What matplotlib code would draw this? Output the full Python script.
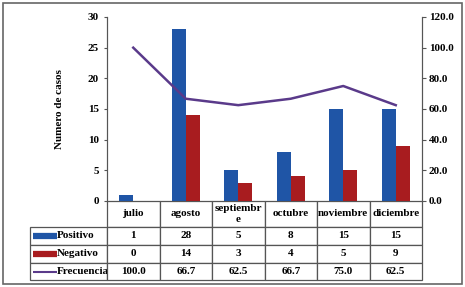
import numpy as np
import matplotlib.pyplot as plt
from matplotlib.patches import Rectangle

# data
meses = ["julio", "agosto", "septiembre", "octubre", "noviembre", "diciembre"]
col_labels = ["julio", "agosto", "septiembr\ne", "octubre", "noviembre", "diciembre"]
positivo = [1, 28, 5, 8, 15, 15]
negativo = [0, 14, 3, 4, 5, 9]
frecuencia = [100.0, 66.7, 62.5, 66.7, 75.0, 62.5]

blue = "#1f55a6"
red = "#a81c1f"
purple = "#5a3a8a"

plt.rcParams["font.family"] = ["Liberation Serif", "DejaVu Serif"]
plt.rcParams["font.weight"] = "bold"

fig = plt.figure(figsize=(4.65, 2.87), dpi=100)
ax = fig.add_axes([107 / 465, 1 - 201 / 287, 315 / 465, 184 / 287])
ax2 = ax.twinx()

x = np.arange(len(meses))
w = 0.27
ax.bar(x - w / 2, positivo, w, color=blue)
ax.bar(x + w / 2, negativo, w, color=red)
ax.set_xlim(-0.5, len(meses) - 0.5)
ax.set_ylim(0, 30)
ax.set_yticks(range(0, 31, 5))
ax.set_xticks([])
ax.tick_params(axis="y", labelsize=8, length=2, pad=4, color="#555555")
ax.set_ylabel("Numero de casos", fontsize=8, fontweight="bold", labelpad=17)

ax2.plot(x, frecuencia, color=purple, lw=1.8)
ax2.set_ylim(0, 120)
ax2.set_yticks(range(0, 121, 20))
ax2.set_yticklabels(["%.1f" % v for v in range(0, 121, 20)])
ax2.tick_params(axis="y", labelsize=8, length=3, pad=2, color="#555555")

for a in (ax, ax2):
    a.spines["top"].set_visible(False)
    a.spines["bottom"].set_visible(False)
    a.spines["left"].set_color("#555555")
    a.spines["right"].set_color("#555555")

# table under the chart, with the legend in the first column
row_names = ["Positivo", "Negativo", "Frecuencia"]
cells = [[""] + col_labels,
         [row_names[0]] + [str(v) for v in positivo],
         [row_names[1]] + [str(v) for v in negativo],
         [row_names[2]] + ["%.1f" % v for v in frecuencia]]
lab_w, col_w = 77, 52.5
heights = [26, 18, 18, 17]
tot_w = lab_w + col_w * len(meses)
tbl = ax.table(cellText=cells, colWidths=[lab_w / tot_w] + [col_w / tot_w] * len(meses),
               cellLoc="center", bbox=[-77 / 315, -79 / 184, tot_w / 315, 79 / 184])
tbl.auto_set_font_size(False)
tbl.set_fontsize(8)
for (r, c), cell in tbl.get_celld().items():
    cell.set_height(heights[r] / 100)
    cell.set_edgecolor("#555555")
    cell.set_linewidth(0.9)
    cell.get_text().set_fontweight("bold")
    if c == 0:
        cell.set_text_props(ha="left")
        cell._loc = "left"
        cell.PAD = 0.35
tbl[0, 0].visible_edges = ""

# legend swatches inside the label column
sw_x = [(33 - 107) / 315, (57 - 107) / 315]
y0 = heights[0]
for i, (col, lw) in enumerate([(blue, 4.5), (red, 4.5), (purple, 1.5)]):
    yc = -(y0 + sum(heights[1:i + 1]) + heights[i + 1] / 2) / 184
    ax.plot(sw_x, [yc, yc], color=col, lw=lw, transform=ax.transAxes,
            clip_on=False, solid_capstyle="butt")

fig.patches.append(Rectangle((3 / 465, 3 / 287), 459 / 465, 281 / 287, transform=fig.transFigure,
                             fill=False, edgecolor="#666666", lw=1.2))

fig.savefig("out.png", dpi=100)
